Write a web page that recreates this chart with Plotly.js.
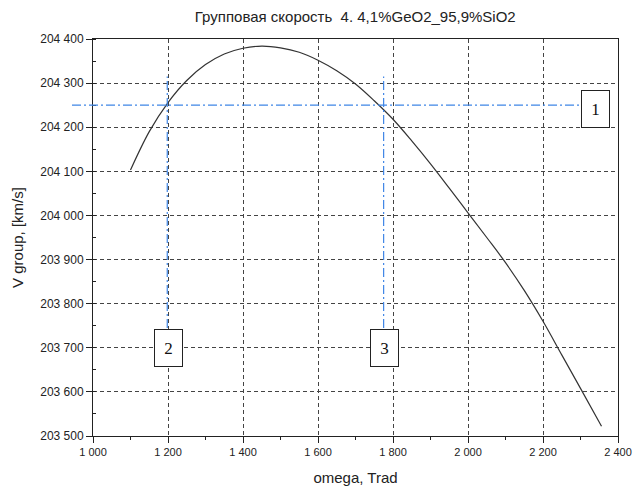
<!DOCTYPE html>
<html><head><meta charset="utf-8">
<script src="https://cdn.plot.ly/plotly-3.0.1.min.js"></script>
<style>html,body{margin:0;padding:0;background:#fff}</style>
</head><body><div id="chart" style="width:635px;height:488px"></div>
<script>
const omega = [1100,1150,1200,1250,1300,1350,1400,1450,1500,1550,1600,1650,1700,1750,1800,1850,1900,1950,2000,2050,2100,2150,2200,2250,2300,2356];
const vgroup = [204103,204190,204256,204306,204342,204366,204379,204384,204380,204370,204352,204328,204298,204260,204218,204169,204117,204062,204006,203950,203893,203830,203760,203684,203608,203522];
const levelV = 204250;
const markerOmega = [1198, 1775];
const markerTop = 204315;
const markerBottom = 203745;
const boxLabels = ['1','2','3'];
const boxX = [2339, 1200, 1778];
const boxY = [204241, 203700, 203700];

const blue = '#3f86e6';
const dashDot = '9px,3px,2px,3px';

const shapes = [
  {type:'line', xref:'paper', yref:'y', x0:-0.04, x1:0.932, y0:levelV, y1:levelV,
   line:{color:blue, width:1.2, dash:dashDot}},
];
markerOmega.forEach(w => shapes.push({type:'line', xref:'x', yref:'y', x0:w, x1:w, y0:markerBottom, y1:markerTop,
   line:{color:blue, width:1.2, dash:dashDot}}));

const annotations = boxLabels.map((t,i) => ({
  x: boxX[i], y: boxY[i], xref:'x', yref:'y', text:t, showarrow:false,
  font:{family:'Liberation Serif, Times New Roman, serif', size:17, color:'#111'},
  bgcolor:'#fff', bordercolor:'#222', borderwidth:1, borderpad:0, width:27, height:36
}));

const axisCommon = {
  showline:true, linecolor:'#222', linewidth:1, mirror:true,
  ticks:'outside', ticklen:6, tickcolor:'#222', tickwidth:1,
  showgrid:true, gridcolor:'#444', griddash:'4px,3px', gridwidth:1,
  zeroline:false, separatethousands:true, exponentformat:'none',
  minor:{ticks:'outside', ticklen:3, tickcolor:'#222', showgrid:false}
};

const titleFont = {family:'Liberation Sans, Arial, sans-serif', size:15, color:'#222'};

const layout = {
  width:635, height:488,
  margin:{l:93, r:17, t:39, b:52},
  paper_bgcolor:'#fff', plot_bgcolor:'#fff',
  separators:'. ',
  showlegend:false,
  title:{text:'Групповая скорость  4. 4,1%GeO2_95,9%SiO2', x:0.5595, xanchor:'center', y:0.965, yanchor:'middle',
    font:titleFont},
  xaxis:Object.assign({}, axisCommon, {range:[1000,2400], dtick:200, tick0:1000,
    tickfont:{family:'Liberation Sans, Arial, sans-serif', size:11, color:'#222'},
    minor:Object.assign({}, axisCommon.minor, {dtick:100}),
    title:{text:'omega, Trad', standoff:15, font:titleFont}}),
  yaxis:Object.assign({}, axisCommon, {range:[203500,204400], dtick:100, tick0:203500,
    tickfont:{family:'Liberation Sans, Arial, sans-serif', size:12, color:'#222'},
    minor:Object.assign({}, axisCommon.minor, {dtick:50, ticks:'inside'}),
    title:{text:'V group, [km/s]', standoff:12, font:titleFont}}),
  shapes:shapes, annotations:annotations
};

Plotly.newPlot('chart', [{
  x: omega, y: vgroup, type:'scatter', mode:'lines', line:{color:'#333', width:1.2, shape:'spline', smoothing:1}, hoverinfo:'skip'
}], layout, {staticPlot:true});
</script></body></html>
